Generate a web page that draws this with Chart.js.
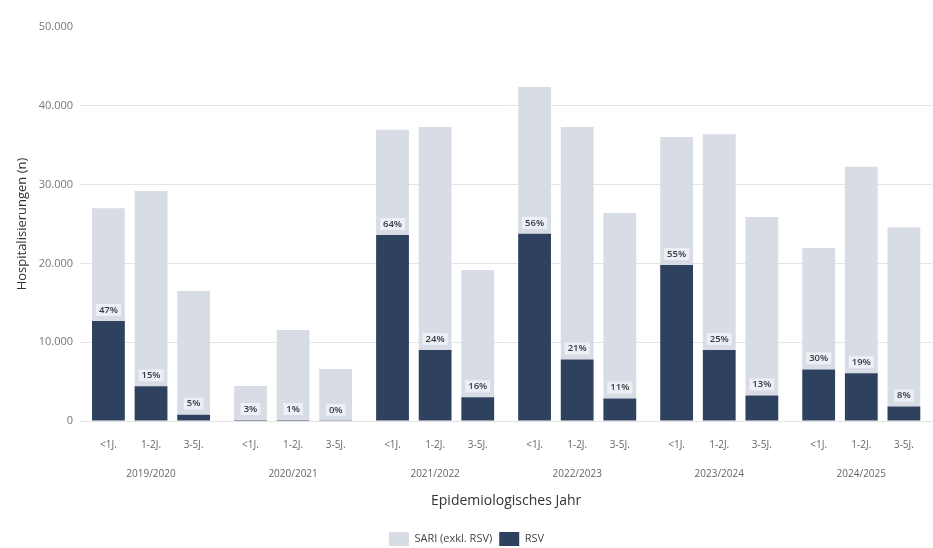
<!DOCTYPE html>
<html>
<head>
<meta charset="utf-8">
<script src="https://cdn.jsdelivr.net/npm/chart.js@4/dist/chart.umd.min.js"></script>
<style>
  html, body { margin: 0; padding: 0; background: #ffffff; }
  #wrap { width: 933px; height: 548px; position: relative; }
</style>
</head>
<body>
<div id="wrap"><canvas id="c" width="933" height="548"></canvas></div>
<script>
// ---- data ----
const years = ['2019/2020', '2020/2021', '2021/2022', '2022/2023', '2023/2024', '2024/2025'];
const ageGroups = ['<1J.', '1-2J.', '3-5J.'];

const rsvU1  = [12700, 130, 23600, 23750, 19800, 6550];
const rsv1to2 = [4400, 115, 9000, 7800, 9000, 6050];
const rsv3to5 = [800, 20, 3000, 2850, 3250, 1850];

const sariU1  = [14300, 4320, 13350, 18650, 16250, 15400];
const sari1to2 = [24800, 11435, 28300, 29500, 27400, 26200];
const sari3to5 = [15700, 6580, 16150, 23550, 22650, 22750];

const pctU1  = ['47%', '3%', '64%', '56%', '55%', '30%'];
const pct1to2 = ['15%', '1%', '24%', '21%', '25%', '19%'];
const pct3to5 = ['5%', '0%', '16%', '11%', '13%', '8%'];

const yTicks = [0, 10000, 20000, 30000, 40000, 50000];

// ---- styling ----
const RSV_COLOR = '#2e4260';
const SARI_COLOR = '#d8dce4';
const FONT = '"Open Sans", "Noto Sans", sans-serif';

const rsvSeries = [rsvU1, rsv1to2, rsv3to5];
const sariSeries = [sariU1, sari1to2, sari3to5];
const pctSeries = [pctU1, pct1to2, pct3to5];

const datasets = [];
ageGroups.forEach((ag, i) => {
  datasets.push({
    label: 'RSV', kind: 'rsv', age: ag, pct: pctSeries[i],
    data: rsvSeries[i], stack: 's' + i,
    backgroundColor: RSV_COLOR, borderWidth: 0,
    categoryPercentage: 0.9, barPercentage: 0.77
  });
  datasets.push({
    label: 'SARI (exkl. RSV)', kind: 'sari', age: ag,
    data: sariSeries[i], stack: 's' + i,
    backgroundColor: SARI_COLOR, borderWidth: 0,
    categoryPercentage: 0.9, barPercentage: 0.77
  });
});

function fmtDe(v) {
  return String(v).replace(/\B(?=(\d{3})+(?!\d))/g, '.');
}

const overlayPlugin = {
  id: 'overlay',
  afterDatasetsDraw(chart) {
    const ctx = chart.ctx;
    const base = chart.scales.y.getPixelForValue(0);
    ctx.save();
    chart.data.datasets.forEach((ds, di) => {
      if (ds.kind !== 'rsv') return;
      const meta = chart.getDatasetMeta(di);
      meta.data.forEach((el, j) => {
        const txt = ds.pct[j];
        ctx.font = '600 9.5px ' + FONT;
        const w = ctx.measureText(txt).width;
        const ty = el.y - 11;
        ctx.fillStyle = 'rgba(240,243,247,0.85)';
        ctx.fillRect(el.x - w / 2 - 3, ty - 6, w + 6, 12);
        ctx.fillStyle = '#333a45';
        ctx.textAlign = 'center';
        ctx.textBaseline = 'middle';
        ctx.fillText(txt, el.x, ty);
        ctx.font = '10px ' + FONT;
        ctx.fillStyle = '#666666';
        ctx.fillText(ds.age, el.x, base + 24);
      });
    });
    ctx.restore();
  }
};

new Chart(document.getElementById('c'), {
  type: 'bar',
  data: { labels: years, datasets: datasets },
  options: {
    responsive: false,
    animation: false,
    devicePixelRatio: 1,
    layout: { padding: { top: 27, right: 0, left: 0, bottom: -8 } },
    scales: {
      x: {
        stacked: true,
        afterFit(scale) { scale.height = 104; },
        grid: { display: false, drawTicks: false },
        border: { display: true, color: '#e3e3e3' },
        ticks: { padding: 47, color: '#666666', font: { family: FONT, size: 10 } },
        title: {
          display: true, text: 'Epidemiologisches Jahr', color: '#333333',
          font: { family: FONT, size: 14 }, padding: { top: 6, bottom: 16 }
        }
      },
      y: {
        stacked: true,
        min: 0, max: 50000,
        afterFit(scale) { scale.width = 80; },
        afterBuildTicks(scale) { scale.ticks = yTicks.map(v => ({ value: v })); },
        grid: {
          drawTicks: false,
          color: ctx => (ctx.tick && ctx.tick.value === 50000) ? 'rgba(0,0,0,0)' : '#e4e4e4'
        },
        border: { display: false },
        ticks: {
          padding: 7, color: '#777777', font: { family: FONT, size: 11 },
          callback: v => fmtDe(v)
        },
        title: {
          display: true, text: 'Hospitalisierungen (n)', color: '#333333',
          font: { family: FONT, size: 13 }, padding: { top: 14, bottom: 4 }
        }
      }
    },
    plugins: {
      legend: {
        position: 'bottom',
        labels: {
          boxWidth: 20, boxHeight: 14, padding: 7,
          color: '#444444', font: { family: FONT, size: 11 },
          generateLabels() {
            return [
              { text: 'SARI (exkl. RSV)', fillStyle: SARI_COLOR, strokeStyle: SARI_COLOR, lineWidth: 0, datasetIndex: 1, fontColor: '#444444' },
              { text: 'RSV', fillStyle: RSV_COLOR, strokeStyle: RSV_COLOR, lineWidth: 0, datasetIndex: 0, fontColor: '#444444' }
            ];
          }
        },
        onClick: null
      },
      tooltip: { enabled: false }
    }
  },
  plugins: [overlayPlugin]
});
</script>
</body>
</html>
